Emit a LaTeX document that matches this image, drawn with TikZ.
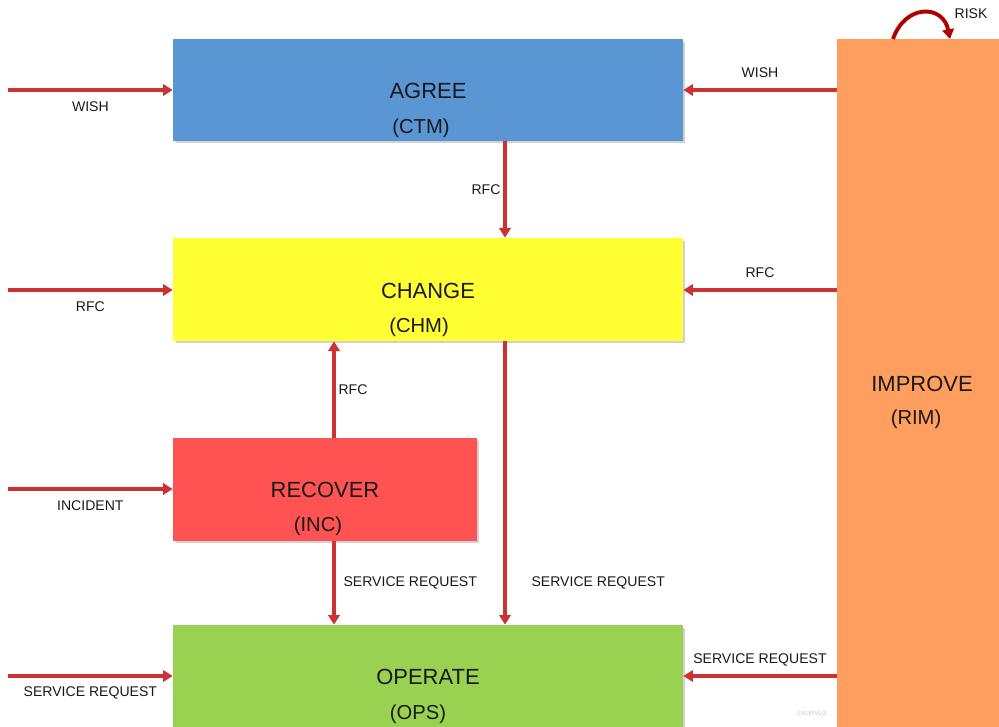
\documentclass[tikz,border=0pt]{standalone}
\usepackage{fontspec}
\setmainfont{Liberation Sans}
\usetikzlibrary{arrows.meta,shadows}

\definecolor{agreeblue}{RGB}{91,150,212}
\definecolor{changeyellow}{RGB}{255,255,51}
\definecolor{recoverred}{RGB}{255,82,82}
\definecolor{operategreen}{RGB}{152,210,80}
\definecolor{improveorange}{RGB}{255,158,94}
\definecolor{flowred}{RGB}{204,50,50}
\definecolor{riskred}{RGB}{178,0,0}
\definecolor{textgray}{RGB}{25,25,25}

\tikzset{
  procbox/.style={rectangle, inner sep=0pt, draw=none,
    drop shadow={shadow xshift=0.05cm, shadow yshift=-0.05cm, fill=black, opacity=0.18}},
  boxtitle/.style={font=\fontsize{12.5}{14}\selectfont, text=textgray, inner sep=0pt},
  boxsub/.style={font=\fontsize{11.5}{13}\selectfont, text=textgray, inner sep=0pt},
  lbl/.style={font=\fontsize{8}{9}\selectfont, text=textgray, inner sep=0pt},
  flow/.style={draw=flowred, line width=1.8pt, -{Triangle[length=5.5pt,width=6.5pt]}}
}

\begin{document}
\begin{tikzpicture}[x=0.02cm, y=-0.02cm]
  \useasboundingbox (0,0) rectangle (999,726);
  \clip (0,0) rectangle (999,726);

  % Process boxes
  \node[procbox, fill=agreeblue, minimum width=10.2cm, minimum height=2.04cm] (agree) at (428,90) {};
  \node[procbox, fill=changeyellow, minimum width=10.2cm, minimum height=2.06cm] (change) at (428,289.5) {};
  \node[procbox, fill=recoverred, minimum width=6.08cm, minimum height=2.06cm] (recover) at (325,489.5) {};
  \node[procbox, fill=operategreen, minimum width=10.2cm, minimum height=2.4cm] (operate) at (428,685) {};
  \node[procbox, fill=improveorange, minimum width=3.4cm, minimum height=14.2cm] (improve) at (922,394) {};

  % Box texts
  \node[boxtitle] (agreet) at (428,91) {AGREE};
  \node[boxsub] (agrees) at (421,128) {(CTM)};
  \node[boxtitle] (changet) at (428,291) {CHANGE};
  \node[boxsub] (changes) at (419,327) {(CHM)};
  \node[boxtitle] (recovert) at (325,490) {RECOVER};
  \node[boxsub] (recovers) at (318,526) {(INC)};
  \node[boxtitle] (operatet) at (428,677) {OPERATE};
  \node[boxsub] (operates) at (418,714) {(OPS)};
  \node[boxtitle] (improvet) at (922,384) {IMPROVE};
  \node[boxsub] (improves) at (916,419) {(RIM)};

  % Incoming flows from the left
  \coordinate (wishin) at (8,90);
  \coordinate (rfcin) at (8,290);
  \coordinate (incin) at (8,489);
  \coordinate (srqin) at (8,676);
  \draw[flow] (wishin) -- (agree.west |- wishin) node[lbl, midway, yshift=-0.34cm] {WISH};
  \draw[flow] (rfcin) -- (change.west |- rfcin) node[lbl, midway, yshift=-0.34cm] {RFC};
  \draw[flow] (incin) -- (recover.west |- incin) node[lbl, midway, yshift=-0.34cm] {INCIDENT};
  \draw[flow] (srqin) -- (operate.west |- srqin) node[lbl, midway, yshift=-0.34cm] {SERVICE REQUEST};

  % Flows from improve
  \draw[flow] (improve.west |- wishin) -- (agree.east |- wishin) node[lbl, midway, yshift=0.34cm] {WISH};
  \draw[flow] (improve.west |- rfcin) -- (change.east |- rfcin) node[lbl, midway, yshift=0.34cm] {RFC};
  \draw[flow] (improve.west |- srqin) -- (operate.east |- srqin) node[lbl, midway, yshift=0.32cm] {SERVICE REQUEST};

  % Flows between boxes
  \coordinate (maincol) at (505,0);
  \coordinate (inccol) at (334,0);
  \draw[flow] (agree.south -| maincol) -- (change.north -| maincol) node[lbl, midway, anchor=east, xshift=-0.06cm] {RFC};
  \draw[flow] (recover.north -| inccol) -- (change.south -| inccol) node[lbl, midway, anchor=west, xshift=0.06cm] {RFC};
  \draw[flow] (recover.south -| inccol) -- (operate.north -| inccol) node[lbl, midway, anchor=west, xshift=0.16cm] {SERVICE REQUEST};
  \draw[flow] (change.south -| maincol) -- (operate.north -| maincol) node[lbl, pos=0.852, anchor=west, xshift=0.5cm] {SERVICE REQUEST};

  % Risk loop on improve
  \coordinate (riskfrom) at (893,39);
  \coordinate (riskto) at (950,39);
  \draw[draw=riskred, line width=2.2pt, -{Triangle[length=5.5pt,width=6.5pt]}] (riskfrom) .. controls (905,4) and (943,4) .. (riskto);
  \node[lbl] (risk) at (971,14) {RISK};

  % Watermark
  \node[font=\fontsize{3.5}{4}\selectfont, text=black!22, inner sep=0pt] (mark) at (812,713) {©SURVUZ};
\end{tikzpicture}
\end{document}
